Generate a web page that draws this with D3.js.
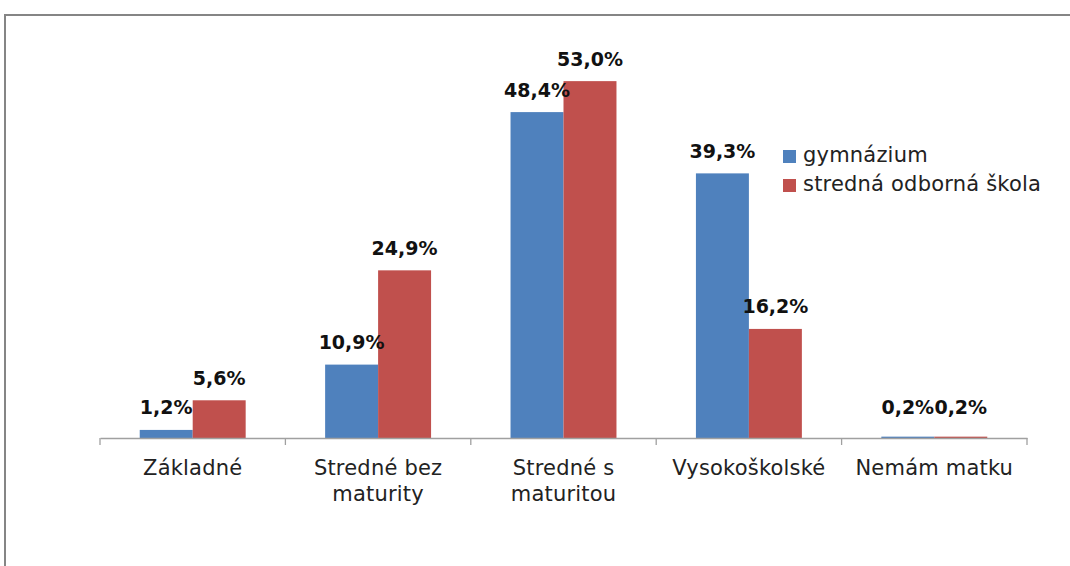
<!DOCTYPE html>
<html><head><meta charset="utf-8">
<script src="https://cdn.jsdelivr.net/npm/d3@7"></script>
<style>html,body{margin:0;padding:0;background:#fff;}</style>
</head><body>
<svg id="chart" width="1070" height="566"></svg>
<script>
const categories = [["Základné"], ["Stredné bez", "maturity"], ["Stredné s", "maturitou"], ["Vysokoškolské"], ["Nemám matku"]];
const seriesNames = ["gymnázium", "stredná odborná škola"];
const gymnazium = [1.2, 10.9, 48.4, 39.3, 0.2];
const sos = [5.6, 24.9, 53.0, 16.2, 0.2];
const colors = ["#4F81BD", "#C0504D"];

const svg = d3.select("#chart");
const W = 1070, H = 566;
// frame
svg.append("rect").attr("x", 5).attr("y", 15).attr("width", W + 20).attr("height", H + 20)
  .attr("fill", "none").attr("stroke", "#858585").attr("stroke-width", 2);

const x0 = d3.scaleBand().domain(d3.range(categories.length)).range([100, 1027]).padding(0);
const x1 = d3.scaleBand().domain(d3.range(seriesNames.length)).range([0, x0.bandwidth()]).paddingInner(0).paddingOuter(0.75);
const y = d3.scaleLinear().domain([0, 60]).range([438, 34]);

const data = [gymnazium, sos];

const g = svg.append("g");
categories.forEach((c, i) => {
  data.forEach((s, j) => {
    g.append("rect")
      .attr("x", x0(i) + x1(j))
      .attr("y", y(s[i]))
      .attr("width", x1.bandwidth())
      .attr("height", y(0) - y(s[i]))
      .attr("fill", colors[j]);
  });
});

// axis
const axis = d3.axisBottom(x0).tickSize(0).tickFormat("");
const ag = svg.append("g").attr("transform", `translate(0,${y(0)})`).call(axis);
ag.select(".domain").attr("stroke", "#a0a0a0").attr("stroke-width", 1.3);
const tickPos = d3.range(categories.length + 1).map(i => 100 + i * x0.step());
ag.selectAll("line.tk").data(tickPos).enter().append("line").attr("class", "tk")
  .attr("x1", d => d).attr("x2", d => d).attr("y1", 0).attr("y2", 7)
  .attr("stroke", "#a0a0a0").attr("stroke-width", 1.3);

// category labels
categories.forEach((c, i) => {
  const t = svg.append("text")
    .attr("x", x0(i) + x0.bandwidth() / 2)
    .attr("y", 475)
    .attr("text-anchor", "middle")
    .attr("font-family", "DejaVu Sans")
    .attr("font-size", 21)
    .attr("letter-spacing", 0.2)
    .attr("fill", "#222");
  c.forEach((line, k) => {
    t.append("tspan").attr("x", x0(i) + x0.bandwidth() / 2).attr("dy", k === 0 ? 0 : 26).text(line);
  });
});

// value labels
const fmt = v => v.toFixed(1).replace(".", ",") + "%";
categories.forEach((c, i) => {
  data.forEach((s, j) => {
    svg.append("text")
      .attr("x", x0(i) + x1(j) + x1.bandwidth() / 2)
      .attr("y", Math.min(y(s[i]) - 15.5, y(0) - 24))
      .attr("text-anchor", "middle")
      .attr("font-family", "DejaVu Sans")
      .attr("font-weight", "bold")
      .attr("font-size", 19)
      .attr("fill", "#111")
      .text(fmt(s[i]));
  });
});

// legend
const lg = svg.append("g");
seriesNames.forEach((n, j) => {
  lg.append("rect").attr("x", 783).attr("y", 150 + j * 29).attr("width", 13).attr("height", 13).attr("fill", colors[j]);
  lg.append("text").attr("x", 803).attr("y", 162 + j * 29)
    .attr("font-family", "DejaVu Sans").attr("font-size", 21).attr("letter-spacing", 0.2)
    .attr("fill", "#222").text(n);
});
</script>
</body></html>
